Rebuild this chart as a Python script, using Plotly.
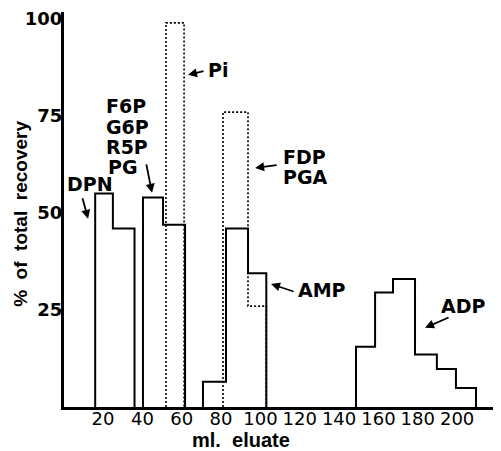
import plotly.graph_objects as go

# ---- data (ml eluate bin edges and % of total recovery) ----
dpn_edges = [16, 25, 36]
dpn_vals = [55, 46]
f6p_edges = [40.3, 50.5, 61.7]
f6p_vals = [54, 47]
amp_edges = [70.8, 82.5, 93.7, 103]
amp_vals = [6.5, 46, 34.5]
adp_edges = [148.6, 158.3, 167.4, 178.6, 189.7, 199.4, 209.6]
adp_vals = [15.5, 29.5, 33, 13.5, 9.8, 4.9]
pi_edges = [52, 61.2]
pi_vals = [99]
fdp_edges = [81, 93.7, 103]
fdp_vals = [76, 26]

x_ticks = [20, 40, 60, 80, 100, 120, 140, 160, 180, 200]
y_ticks = [25, 50, 75, 100]


def steps(edges, vals):
    xs = [edges[0]] + list(edges[:-1]) + [edges[-1]]
    ys = [0] + list(vals) + [0]
    return xs, ys


fig = go.Figure()
for e, v in [(dpn_edges, dpn_vals), (f6p_edges, f6p_vals), (amp_edges, amp_vals), (adp_edges, adp_vals)]:
    xs, ys = steps(e, v)
    fig.add_trace(go.Scatter(x=xs, y=ys, mode="lines", line=dict(shape="hv", color="black", width=2),
                             showlegend=False, hoverinfo="skip", cliponaxis=False))
for e, v in [(pi_edges, pi_vals), (fdp_edges, fdp_vals)]:
    xs, ys = steps(e, v)
    fig.add_trace(go.Scatter(x=xs, y=ys, mode="lines",
                             line=dict(shape="hv", color="black", width=1.6, dash="2px,2px"),
                             showlegend=False, hoverinfo="skip", cliponaxis=False))

lab = dict(family="DejaVu Sans", size=19, color="black")
texts = [
    ("DPN", 13.4, 57.5, "center"),
    ("F6P", 21.0, 77.5, "left"),
    ("G6P", 21.0, 72.25, "left"),
    ("R5P", 21.0, 67.0, "left"),
    ("PG", 22.0, 61.75, "left"),
    ("Pi", 72.8, 86.9, "left"),
    ("FDP", 111.0, 64.4, "left"),
    ("PGA", 111.0, 59.2, "left"),
    ("AMP", 118.6, 30.2, "left"),
    ("ADP", 191.3, 26.0, "left"),
]
for t, x, y, xa in texts:
    fig.add_annotation(x=x, y=y, text="<b>%s</b>" % t, showarrow=False, xanchor=xa, yanchor="middle",
                       font=lab, height=18, valign="middle", borderpad=0)

arrows = [
    (12.4, 48.5, -6, -22),
    (44.9, 55.2, -6, -30),
    (63.2, 85.6, 17, -4),
    (97.3, 61.6, 23, -3),
    (105.4, 31.7, 24, 8),
    (183.7, 20.4, 25, -11),
]
for x, y, ax, ay in arrows:
    fig.add_annotation(x=x, y=y, ax=ax, ay=ay, text="", showarrow=True, arrowhead=2,
                       arrowsize=1, arrowwidth=1.8, arrowcolor="black")

fig.add_annotation(xref="paper", yref="paper", x=0, y=0.489, xshift=-43, textangle=-90,
                   text="<b>% &nbsp;of &nbsp;total &nbsp;recovery</b>", showarrow=False,
                   xanchor="center", yanchor="middle",
                   font=dict(family="Liberation Sans", size=19, color="black"))
fig.add_annotation(xref="x", yref="paper", x=90, y=0, yshift=-33,
                   text="<b>ml. &nbsp;eluate</b>", showarrow=False,
                   xanchor="center", yanchor="middle", height=18, valign="middle", borderpad=0,
                   font=dict(family="Liberation Sans", size=20, color="black"))

# page body has an 8px margin, so the figure is 8px smaller and shifted
fig.update_layout(
    width=493, height=443,
    margin=dict(l=56, r=1, t=4, b=44, autoexpand=False),
    plot_bgcolor="white", paper_bgcolor="white",
    showlegend=False,
)
fig.update_xaxes(range=[0.15, 221.8], showgrid=False, zeroline=False, showline=True, automargin=False,
                 linecolor="black", linewidth=3, tickvals=x_ticks, ticktext=[str(v) for v in x_ticks],
                 ticks="", ticklabelstandoff=-7,
                 tickfont=dict(family="DejaVu Sans", size=18, color="black"))
fig.update_yaxes(range=[0, 101.8], showgrid=False, zeroline=False, showline=True, automargin=False,
                 linecolor="black", linewidth=3, tickvals=y_ticks,
                 ticktext=["<b>%d</b>" % v for v in y_ticks],
                 ticks="outside", ticklen=3, tickwidth=2, tickcolor="black", ticklabelstandoff=-8,
                 tickfont=dict(family="DejaVu Sans", size=18, color="black"))

fig.write_html("out.html")
